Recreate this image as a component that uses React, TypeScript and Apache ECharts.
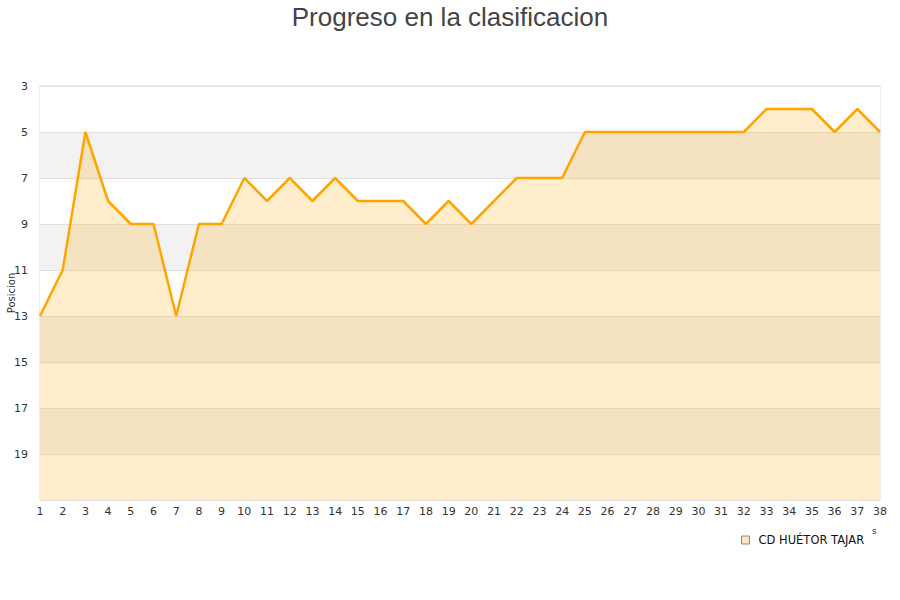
import React, { useEffect, useRef } from "react";
import * as echarts from "echarts";

const rounds: string[] = [
  "1", "2", "3", "4", "5", "6", "7", "8", "9", "10",
  "11", "12", "13", "14", "15", "16", "17", "18", "19", "20",
  "21", "22", "23", "24", "25", "26", "27", "28", "29", "30",
  "31", "32", "33", "34", "35", "36", "37", "38",
];

const positions: number[] = [
  13, 11, 5, 8, 9, 9, 13, 9, 9, 7,
  8, 7, 8, 7, 8, 8, 8, 9, 8, 9,
  8, 7, 7, 7, 5, 5, 5, 5, 5, 5,
  5, 5, 4, 4, 4, 5, 4, 5,
];

const teamName = "CD HUÉTOR TAJAR";
const chartTitle = "Progreso en la clasificacion";
const yAxisName = "Posicion";

export default function App() {
  const ref = useRef<HTMLDivElement>(null);

  useEffect(() => {
    if (!ref.current) return;
    const chart = echarts.init(ref.current, undefined, { renderer: "svg" });
    chart.setOption({
      animation: false,
      backgroundColor: "#ffffff",
      title: {
        text: chartTitle,
        left: "center",
        top: -1,
        textStyle: {
          fontFamily: "Liberation Sans",
          fontSize: 26,
          fontWeight: "normal",
          color: "#444444",
        },
      },
      grid: {
        left: 40,
        right: 20,
        top: 86,
        bottom: 100,
        containLabel: false,
        outerBoundsMode: "none",
        show: true,
        borderColor: "#d9d9d9",
        borderWidth: 1,
        backgroundColor: "transparent",
      },
      legend: {
        data: [
          {
            name: teamName,
            itemStyle: {
              color: "#fde6bd",
              borderColor: "#8a8a8a",
              borderWidth: 1,
            },
          },
        ],
        left: 736,
        top: 529,
        icon: "rect",
        itemWidth: 8,
        itemHeight: 8,
        itemGap: 6,
        textStyle: {
          fontFamily: "DejaVu Sans",
          fontSize: 11.5,
          color: "#111111",
          padding: [0, 0, 0, 4],
        },
      },
      xAxis: {
        type: "category",
        data: rounds,
        boundaryGap: false,
        axisLine: { show: false },
        axisTick: { show: false },
        splitLine: { show: false },
        axisLabel: {
          interval: 0,
          fontFamily: "DejaVu Sans",
          fontSize: 11,
          color: "#333333",
          margin: 6,
        },
      },
      yAxis: {
        type: "value",
        inverse: true,
        min: 3,
        max: 21,
        interval: 2,
        axisLine: { show: false },
        axisTick: { show: false },
        axisLabel: {
          showMaxLabel: false,
          fontFamily: "DejaVu Sans",
          fontSize: 11,
          color: "#333333",
          margin: 12,
        },
        splitLine: { show: true, lineStyle: { color: "#e0e0e0", width: 1 } },
        splitArea: {
          show: true,
          areaStyle: { color: ["#ffffff", "#f2f2f2"], opacity: 1 },
        },
      },
      graphic: [
        {
          // vertical y-axis title
          type: "text",
          x: 11,
          y: 293,
          rotation: Math.PI / 2,
          style: {
            text: yAxisName,
            fontFamily: "DejaVu Sans",
            fontSize: 10,
            fill: "#333333",
            textAlign: "center",
            textVerticalAlign: "middle",
          },
        },
        {
          type: "text",
          left: 872,
          top: 526,
          style: {
            text: "s",
            fontFamily: "DejaVu Sans",
            fontSize: 9,
            fill: "#333333",
          },
        },
      ],
      series: [
        {
          name: teamName,
          type: "line",
          data: positions,
          showSymbol: false,
          symbol: "none",
          lineStyle: { color: "#ffa500", width: 2.5 },
          itemStyle: { color: "#ffa500" },
          areaStyle: { color: "rgba(255,165,0,0.2)", opacity: 1, origin: "end" },
        },
      ],
    });
    return () => chart.dispose();
  }, []);

  return <div ref={ref} style={{ width: 900, height: 600, position: "absolute", left: 0, top: 0 }} />;
}
